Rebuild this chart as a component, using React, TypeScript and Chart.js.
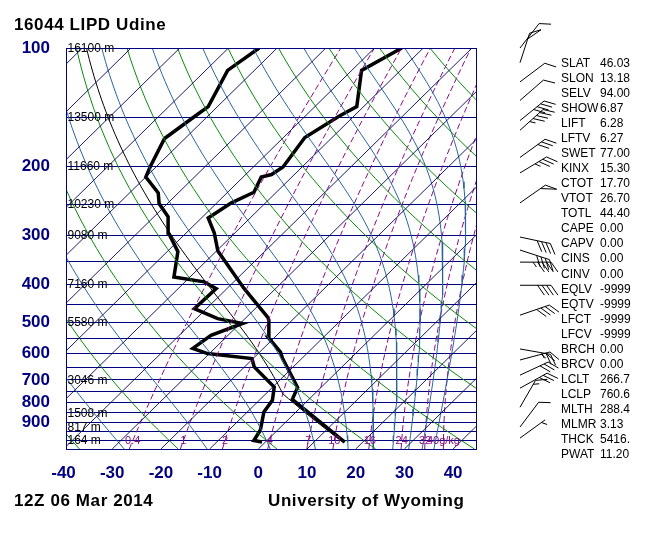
import { useEffect, useRef } from "react";
import { Chart, registerables } from "chart.js";

Chart.register(...registerables);

// ---------------- data ----------------
const isobars = [100, 150, 200, 250, 300, 350, 400, 450, 500, 550, 600, 650, 700, 750, 800, 850, 900, 950, 1000, 1050];
const pressureTickLabels = [100, 200, 300, 400, 500, 600, 700, 800, 900];
const temperatureTicks = [-40, -30, -20, -10, 0, 10, 20, 30, 40];
const isotherms = [-130, -120, -110, -100, -90, -80, -70, -60, -50, -40, -30, -20, -10, 0, 10, 20, 30, 40];
const dryAdiabatThetaC = [-40, -20, 0, 20, 40, 60, 80, 100, 120, 140, 160, 180];
const moistAdiabatTopThetaC = [-30, -10, 10, 30, 50, 70, 90, 110, 130, 150];
const mixingRatios = [0.4, 1, 2, 4, 7, 10, 16, 24, 32, 40];
const mixingRatioLabels = ["0.4", "1", "2", "4", "7", "10", "16", "24", "32", "40g/kg"];

const heightLevels = [100, 150, 200, 250, 300, 400, 500, 700, 850, 925, 1000];
const heightLabels = ["16100 m", "13500 m", "11660 m", "10230 m", "9080 m", "7160 m", "5580 m", "3046 m", "1508 m", "817 m", "164 m"];

const tempPressure = [1008, 785, 732, 617, 595, 545, 493, 485, 409, 329, 296, 271, 248, 233, 213, 210, 201, 169, 149, 141, 114, 100];
const tempValues = [16.3, -3.4, -4.8, -14.0, -15.7, -21.4, -24.8, -25.6, -36.6, -49.7, -54.2, -58.6, -57.0, -54.6, -56.3, -54.7, -53.9, -55.6, -53.0, -51.4, -58.0, -54.4];

const dewPressure = [1008, 999, 941, 845, 789, 730, 649, 618, 600, 582, 539, 503, 489, 461, 410, 394, 383, 330, 296, 269, 249, 234, 213, 200, 170, 149, 141, 114, 100];
const dewValues = [-0.7, -2.7, -3.5, -6.6, -7.3, -9.7, -18.0, -20.2, -30.4, -34.5, -33.5, -29.5, -35.6, -42.5, -42.2, -46.1, -53.3, -57.8, -63.6, -67.1, -71.7, -74.1, -80.0, -81.3, -84.2, -82.6, -81.9, -85.5, -83.7];

const windPressure = [100, 109, 122, 136, 153, 162, 190, 208, 248, 303, 327, 351, 402, 479, 584, 623, 681, 735, 822, 923, 985];
const windDirection = [38, 18, 53, 49, 51, 48, 54, 59, 55, 102, 108, 90, 90, 71, 100, 75, 65, 61, 30, 37, 54];
const windSpeed = [10, 50, 10, 10, 40, 45, 30, 35, 50, 40, 40, 45, 40, 40, 25, 25, 30, 30, 15, 10, 5];

const statNames = ["SLAT", "SLON", "SELV", "SHOW", "LIFT", "LFTV", "SWET", "KINX", "CTOT", "VTOT", "TOTL", "CAPE", "CAPV", "CINS", "CINV", "EQLV", "EQTV", "LFCT", "LFCV", "BRCH", "BRCV", "LCLT", "LCLP", "MLTH", "MLMR", "THCK", "PWAT"];
const statValues = ["46.03", "13.18", "94.00", "6.87", "6.28", "6.27", "77.00", "15.30", "17.70", "26.70", "44.40", "0.00", "0.00", "0.00", "0.00", "-9999", "-9999", "-9999", "-9999", "0.00", "0.00", "266.7", "760.6", "288.4", "3.13", "5416.", "11.20"];

const surfacePressure = 1008;
const lclPressure = 760.6;
const lclTempK = 266.7;
const mixedLayerThetaK = 288.4;

// ---------------- thermodynamics / geometry ----------------
const P_TOP = 100;
const P_BOT = 1050;
const SKEW = 35.67;
const X_MIN = -39.49;
const X_MAX = 44.7;
const RD = 287.04, CP = 1005.7, LV = 2.501e6, EPS = 0.622, KAPPA = RD / CP;
const MIX_EXP = 0.93;

const skewX = (t: number, p: number) => t + SKEW * Math.log(P_BOT / p);
const es = (tc: number) => 6.112 * Math.exp((17.67 * tc) / (tc + 243.5));
const rsat = (tc: number, p: number) => { const e = es(tc); return (EPS * e) / (p - e); };
const moistLapse = (tK: number, p: number) => {
  const r = rsat(tK - 273.15, p);
  return (RD * tK + LV * r) / (CP + (LV * LV * r * EPS) / (RD * tK * tK));
};
function moistPath(t0K: number, p0: number, p1: number, n: number) {
  const pts: { x: number; y: number }[] = [];
  let T = t0K;
  const l0 = Math.log(p0), l1 = Math.log(p1), h = (l1 - l0) / n;
  for (let i = 0; i <= n; i++) {
    const lp = l0 + h * i;
    const p = Math.exp(lp);
    pts.push({ x: skewX(T - 273.15, p), y: p });
    if (i === n) break;
    const f = (tt: number, l: number) => moistLapse(tt, Math.exp(l));
    const k1 = f(T, lp), k2 = f(T + (h * k1) / 2, lp + h / 2), k3 = f(T + (h * k2) / 2, lp + h / 2), k4 = f(T + h * k3, lp + h);
    T += (h * (k1 + 2 * k2 + 2 * k3 + k4)) / 6;
  }
  return pts;
}
function logSteps(p0: number, p1: number, n: number) {
  const out: number[] = [];
  for (let i = 0; i <= n; i++) out.push(Math.exp(Math.log(p0) + ((Math.log(p1) - Math.log(p0)) * i) / n));
  return out;
}
const dewFromMix = (w: number, p: number) => {
  const e = ((w * p) / (622 + w)) * Math.pow(p / 1000, MIX_EXP);
  const L = Math.log(e / 6.112);
  return (243.5 * L) / (17.67 - L);
};

const lineDs = (data: { x: number; y: number }[], color: string, width: number, dash: number[] = []) => ({
  data,
  showLine: true,
  borderColor: color,
  borderWidth: width,
  borderDash: dash,
  pointRadius: 0,
  fill: false,
  tension: 0,
});

function buildDatasets() {
  const ds: any[] = [];
  isotherms.forEach((t) => ds.push(lineDs([{ x: skewX(t, P_BOT), y: P_BOT }, { x: skewX(t, P_TOP), y: P_TOP }], "#00005a", 0.9)));
  dryAdiabatThetaC.forEach((th) => {
    const pts = logSteps(P_BOT, P_TOP, 40).map((p) => ({ x: skewX((th + 273.15) * Math.pow(p / 1000, KAPPA) - 273.15, p), y: p }));
    ds.push(lineDs(pts, "#0a8a0a", 1));
  });
  moistAdiabatTopThetaC.forEach((th) => {
    const t0 = (th + 273.15) * Math.pow(P_TOP / 1000, KAPPA);
    ds.push(lineDs(moistPath(t0, P_TOP, P_BOT, 60), "#28649c", 1));
  });
  mixingRatios.forEach((w) => {
    const pts = logSteps(P_BOT, P_TOP, 40).map((p) => ({ x: skewX(dewFromMix(w, p), p), y: p }));
    ds.push(lineDs(pts, "#8a0a8a", 1, [6, 3]));
  });
  const dry = logSteps(surfacePressure, lclPressure, 10).map((p) => ({ x: skewX(mixedLayerThetaK * Math.pow(p / 1000, KAPPA) - 273.15, p), y: p }));
  ds.push(lineDs(dry.concat(moistPath(lclTempK, lclPressure, P_TOP, 60)), "#000000", 1));
  ds.push(lineDs(tempPressure.map((p, i) => ({ x: skewX(tempValues[i], p), y: p })), "#000000", 3.5));
  ds.push(lineDs(dewPressure.map((p, i) => ({ x: skewX(dewValues[i], p), y: p })), "#000000", 3.5));
  return ds;
}

function drawBarb(ctx: CanvasRenderingContext2D, x: number, y: number, dirDeg: number, spd: number) {
  const a = (dirDeg * Math.PI) / 180;
  const ux = Math.sin(a), uy = -Math.cos(a);
  const L = 31;
  const r = (55 * Math.PI) / 180;
  const fx = ux * Math.cos(r) - uy * Math.sin(r);
  const fy = ux * Math.sin(r) + uy * Math.cos(r);
  const sp = (d: number) => [x + ux * (L - d), y + uy * (L - d)];
  ctx.beginPath();
  ctx.moveTo(x, y);
  ctx.lineTo(x + ux * L, y + uy * L);
  ctx.stroke();
  let rem = Math.round(spd / 5) * 5;
  let pos = 0;
  while (rem >= 50) {
    const [ax, ay] = sp(pos);
    const [bx, by] = sp(pos + 6);
    ctx.beginPath();
    ctx.moveTo(ax, ay);
    ctx.lineTo(ax + fx * 12, ay + fy * 12);
    ctx.lineTo(bx, by);
    ctx.stroke();
    pos += 8;
    rem -= 50;
  }
  while (rem >= 10) {
    const [ax, ay] = sp(pos);
    ctx.beginPath();
    ctx.moveTo(ax, ay);
    ctx.lineTo(ax + fx * 12, ay + fy * 12);
    ctx.stroke();
    pos += 4.5;
    rem -= 10;
  }
  if (rem >= 5) {
    if (pos === 0) pos = 4.5;
    const [ax, ay] = sp(pos);
    ctx.beginPath();
    ctx.moveTo(ax, ay);
    ctx.lineTo(ax + fx * 6, ay + fy * 6);
    ctx.stroke();
  }
}

const overlayPlugin = {
  id: "skewtOverlay",
  afterDraw(chart: any) {
    const { ctx, chartArea, scales } = chart;
    const xs = scales.x, ys = scales.y;
    ctx.save();
    ctx.strokeStyle = "#000080";
    ctx.lineWidth = 1;
    ctx.strokeRect(Math.round(chartArea.left) + 0.5, Math.round(chartArea.top) + 0.5, Math.round(chartArea.right - chartArea.left), Math.round(chartArea.bottom - chartArea.top));
    ctx.fillStyle = "#000000";
    ctx.font = "12px 'Liberation Sans', Arial, sans-serif";
    ctx.textBaseline = "middle";
    ctx.textAlign = "left";
    heightLevels.forEach((p, i) => ctx.fillText(heightLabels[i], chartArea.left + 1.5, ys.getPixelForValue(p) + 0.5));
    ctx.fillStyle = "#8a0a8a";
    ctx.font = "11px 'Liberation Sans', Arial, sans-serif";
    ctx.textAlign = "center";
    mixingRatios.forEach((w, i) => ctx.fillText(mixingRatioLabels[i], xs.getPixelForValue(skewX(dewFromMix(w, 1000), 1000)), ys.getPixelForValue(1000) + 0.5));
    ctx.strokeStyle = "#000000";
    ctx.lineWidth = 1;
    windPressure.forEach((p, i) => drawBarb(ctx, 520, ys.getPixelForValue(p), windDirection[i], windSpeed[i]));
    ctx.restore();
  },
};

const axisFont = { family: "'Liberation Sans', Arial, sans-serif", size: 17, weight: "bold" as const };

export default function App() {
  const ref = useRef<HTMLCanvasElement | null>(null);
  useEffect(() => {
    if (!ref.current) return;
    const chart = new Chart(ref.current, {
      type: "scatter",
      data: { datasets: buildDatasets() },
      options: {
        animation: false,
        responsive: false,
        maintainAspectRatio: false,
        devicePixelRatio: 1,
        events: [],
        layout: { padding: { left: 0, top: 48, right: 171, bottom: 51 } },
        plugins: { legend: { display: false }, tooltip: { enabled: false } },
        scales: {
          x: {
            type: "linear",
            min: X_MIN,
            max: X_MAX,
            grid: { display: false, drawTicks: false },
            border: { display: false },
            afterBuildTicks: (s: any) => { s.ticks = temperatureTicks.map((v) => ({ value: v })); },
            afterFit: (s: any) => { s.height = 52; },
            ticks: { autoSkip: false, maxRotation: 0, color: "#000080", font: axisFont, padding: 14, callback: (v: any) => String(v) },
          },
          y: {
            type: "logarithmic",
            reverse: true,
            min: P_TOP,
            max: P_BOT,
            afterBuildTicks: (s: any) => { s.ticks = isobars.map((v) => ({ value: v })); },
            afterFit: (s: any) => { s.width = 66; },
            grid: { color: "#000080", lineWidth: 1, drawTicks: false },
            border: { color: "#000080" },
            ticks: { autoSkip: false, color: "#000080", font: axisFont, padding: 16, callback: (v: any) => (pressureTickLabels.includes(Number(v)) ? String(v) : "") },
          },
        },
      },
      plugins: [overlayPlugin],
    } as any);
    return () => chart.destroy();
  }, []);

  const txt = "'Liberation Sans', Arial, Helvetica, sans-serif";
  return (
    <div style={{ position: "absolute", left: 0, top: 0, width: 647, height: 552, background: "#ffffff", overflow: "hidden" }}>
      <canvas ref={ref} width={647} height={552} style={{ position: "absolute", left: 0, top: 0, width: 647, height: 552 }} />
      <div style={{ position: "absolute", left: 14, top: 16, font: `bold 17px ${txt}`, lineHeight: "17px", letterSpacing: "0.6px", color: "#000", whiteSpace: "nowrap" }}>16044 LIPD Udine</div>
      <div style={{ position: "absolute", left: 14, top: 492, font: `bold 17px ${txt}`, lineHeight: "17px", letterSpacing: "0.6px", color: "#000", whiteSpace: "nowrap" }}>12Z 06 Mar 2014</div>
      <div style={{ position: "absolute", left: 268, top: 492, font: `bold 17px ${txt}`, lineHeight: "17px", letterSpacing: "0.6px", color: "#000", whiteSpace: "nowrap" }}>University of Wyoming</div>
      {statNames.map((n, i) => (
        <div key={n} style={{ position: "absolute", left: 561, top: 62.7 + i * 15.05 - 5.9, font: `12px ${txt}`, lineHeight: "12px", color: "#000", whiteSpace: "nowrap" }}>
          <span>{n}</span>
          <span style={{ position: "absolute", left: 39 }}>{statValues[i]}</span>
        </div>
      ))}
    </div>
  );
}
